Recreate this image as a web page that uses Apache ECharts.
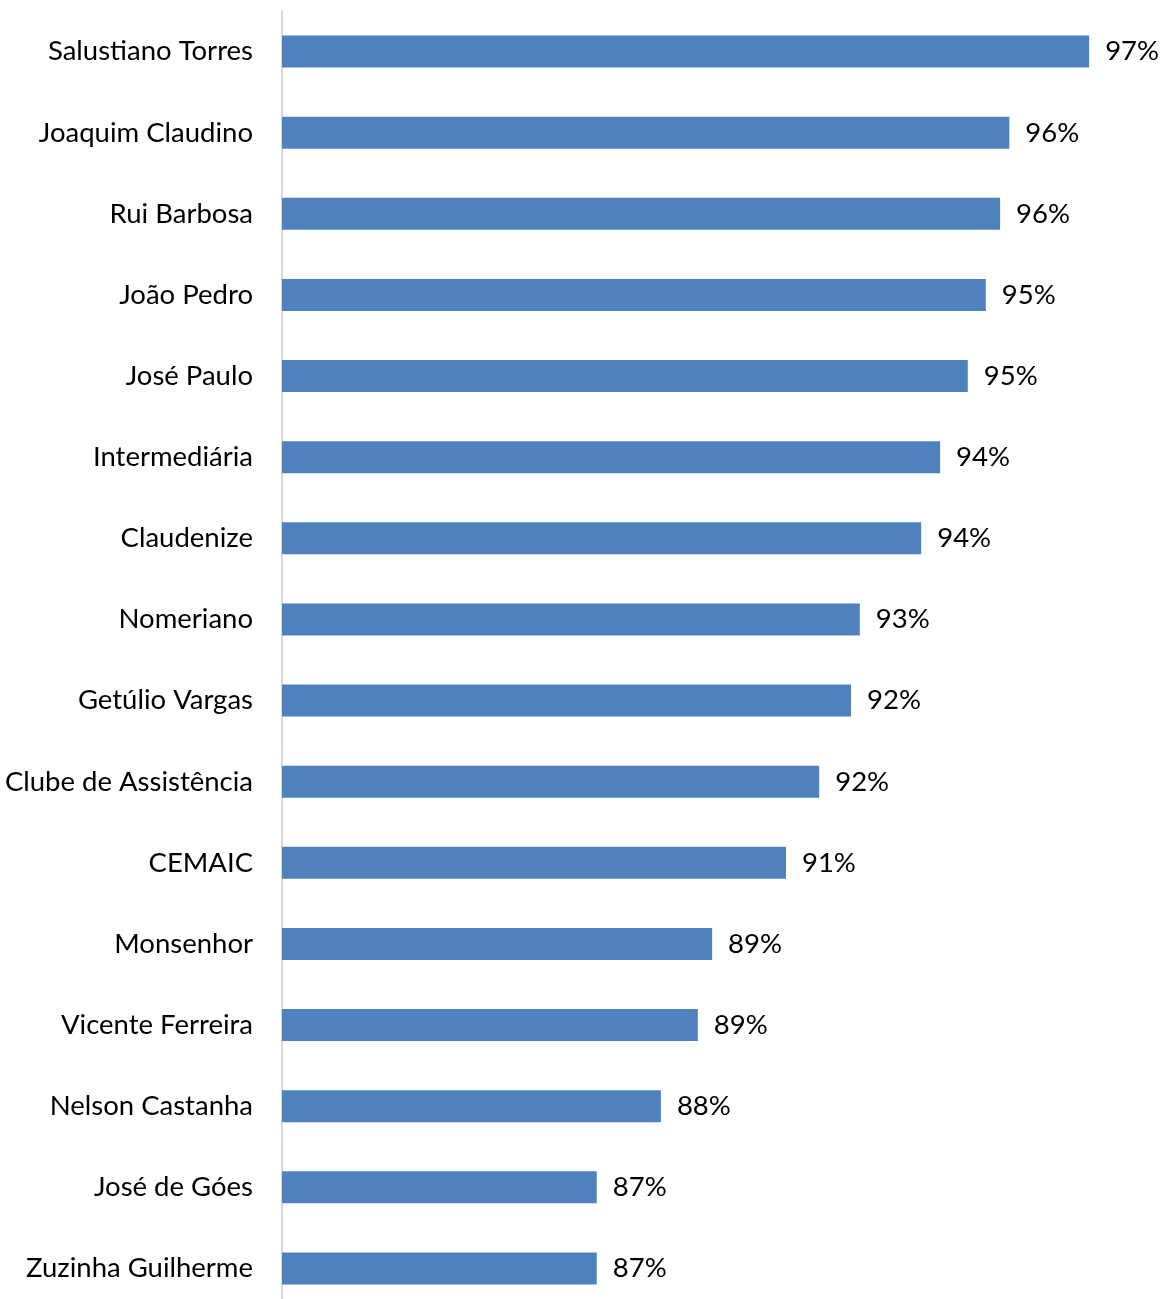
<!DOCTYPE html>
<html>
<head>
<meta charset="utf-8">
<script src="https://cdn.jsdelivr.net/npm/echarts@6/dist/echarts.min.js"></script>
<style>html,body{margin:0;padding:0;background:#fff;overflow:hidden;}#c{width:1167px;height:1312px;}</style>
</head>
<body>
<div id="c"></div>
<script>
var categories = ["Salustiano Torres","Joaquim Claudino","Rui Barbosa","João Pedro","José Paulo","Intermediária","Claudenize","Nomeriano","Getúlio Vargas","Clube de Assistência","CEMAIC","Monsenhor","Vicente Ferreira","Nelson Castanha","José de Góes","Zuzinha Guilherme"];
var values = [97.49,95.76,95.56,95.25,94.86,94.26,93.85,92.52,92.33,91.64,90.92,89.32,89.01,88.21,86.82,86.82];

var chart = echarts.init(document.getElementById('c'), null, {renderer:'canvas'});
chart.setOption({
  animation:false,
  grid:{left:282, top:11, width:830.7, height:1298, containLabel:false},
  xAxis:{type:'value', min:80, max:98, show:false, splitLine:{show:false}},
  yAxis:{type:'category', data:categories, inverse:true,
    axisLine:{show:true, lineStyle:{color:'#d9d9d9', width:2}},
    axisTick:{show:false},
    axisLabel:{color:'#000', fontSize:27.5, fontFamily:'Lato', margin:29, padding:[4,0,0,0]}
  },
  series:[{type:'bar', data:values, barWidth:32,
    itemStyle:{color:'#4f81bd'},
    label:{show:true, position:'right', distance:16, color:'#000', fontSize:27.5, fontFamily:'Lato', padding:[4,0,0,0],
      formatter:function(p){return Math.round(p.value)+'%';}}
  }]
});
</script>
</body>
</html>
